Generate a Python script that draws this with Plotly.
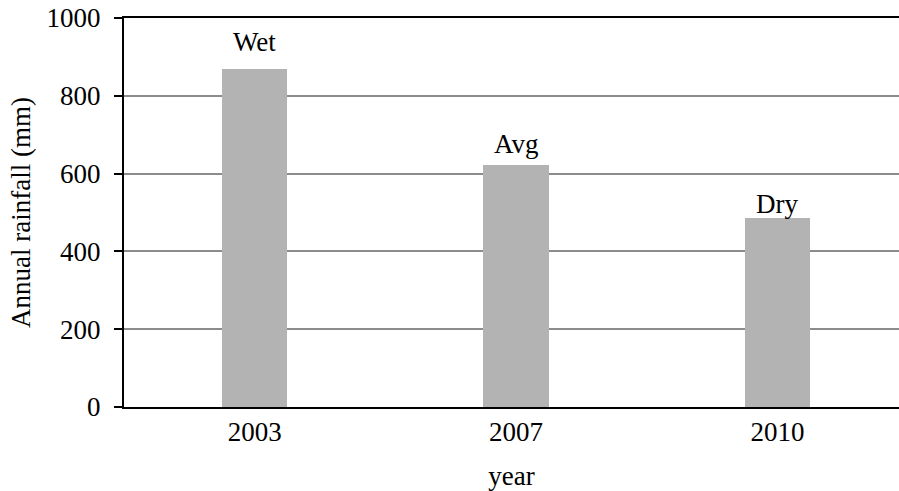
import plotly.graph_objects as go

# Annual rainfall for the three study years
years = ["2003", "2007", "2010"]
rainfall_mm = [869, 622, 485]
year_class = ["Wet", "Avg", "Dry"]

# vertical gap (px) between each bar top and its class label
label_lift = [10, 4, -3]

FONT = "Liberation Serif, Times New Roman, serif"
SIZE = 27

fig = go.Figure()
fig.add_trace(go.Bar(
    x=years,
    y=rainfall_mm,
    width=0.25,
    marker=dict(color="#b3b3b3", line=dict(width=0)),
    showlegend=False,
    hoverinfo="skip",
))

for i, (val, cls, lift) in enumerate(zip(rainfall_mm, year_class, label_lift)):
    fig.add_annotation(
        x=i, y=val, xref="x", yref="y", text=cls, showarrow=False,
        xanchor="center", yanchor="bottom", yshift=lift,
        font=dict(family=FONT, size=SIZE, color="black"),
    )

fig.update_layout(
    width=899, height=491,
    margin=dict(l=124, r=0, t=18, b=84),
    paper_bgcolor="white",
    plot_bgcolor="white",
    font=dict(family=FONT, size=SIZE, color="black"),
    bargap=0,
)

fig.update_xaxes(
    type="category",
    range=[-0.5, 2.465],
    showline=True, linecolor="black", linewidth=2, mirror=True,
    ticks="", showgrid=False,
    title=dict(text="year", font=dict(family=FONT, size=SIZE), standoff=22),
    tickfont=dict(family=FONT, size=SIZE),
)

fig.update_yaxes(
    range=[0, 1000],
    tickvals=[0, 200, 400, 600, 800, 1000],
    showline=True, linecolor="black", linewidth=2,
    ticks="outside", ticklen=8, tickwidth=2, tickcolor="black",
    ticklabelstandoff=8,
    showgrid=True, gridcolor="#8c8c8c", gridwidth=2,
    zeroline=False,
    title=dict(text="Annual rainfall (mm)", font=dict(family=FONT, size=SIZE), standoff=8),
    tickfont=dict(family=FONT, size=SIZE),
)

fig.write_html("out.html")
